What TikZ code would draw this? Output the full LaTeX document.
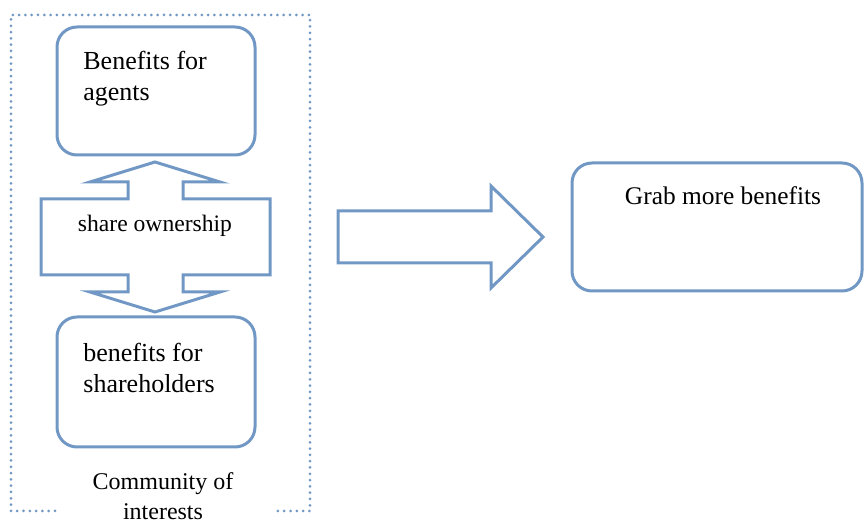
\documentclass[tikz,border=0pt]{standalone}
\usepackage{fontspec}
\setmainfont{Liberation Serif}
\usepackage{tikz}

\definecolor{steelline}{RGB}{113,152,196}

\begin{document}
\begin{tikzpicture}[x=0.5pt,y=-0.5pt,
        box/.style={draw=steelline, line width=1.5pt, rounded corners=10pt, inner sep=0pt},
        blockarrow/.style={draw=steelline, line width=1.5pt, line join=miter},
        frame/.style={draw=steelline, line width=1.5pt, line cap=round, dash pattern=on 0pt off 3.15pt},
        lbl/.style={inner sep=0pt, align=left, font=\rmfamily\fontsize{13}{15.5}\selectfont}]
        \useasboundingbox (0,0) rectangle (864,523);

        % Draw the group frame (open at the bottom for its label)
        \draw[frame] (55,511) -- (11,511) -- (11,15) -- (310,15) -- (310,511) -- (273,511);

        % Draw the boxes
        \node[box, minimum width=99pt, minimum height=64pt] (agents) at (156,91) {};
        \node[box, minimum width=99pt, minimum height=65pt] (holders) at (156,382) {};
        \node[box, minimum width=145pt, minimum height=64pt] (grab) at (717,227) {};

        % Labels in the boxes
        \node[lbl, anchor=north west] (agentsT) at (83,51) {Benefits for\\agents};
        \node[lbl, anchor=north west] (holdersT) at (83,343) {benefits for\\shareholders};
        \node[lbl, anchor=base, font=\rmfamily\fontsize{12.7}{15}\selectfont] (grabT) at (723,205) {Grab more benefits};

        % Draw the up-down arrow
        \draw[blockarrow] (155,162) -- (220,182) -- (183,182) -- (183,199) -- (270,199)
            -- (270,275) -- (183,275) -- (183,292) -- (220,292) -- (155,312)
            -- (90,292) -- (128,292) -- (128,275) -- (41,275) -- (41,199)
            -- (128,199) -- (128,182) -- (90,182) -- cycle;
        \node[lbl, anchor=base, font=\rmfamily\fontsize{11.8}{14}\selectfont] (share) at (155,232) {share ownership};

        % Draw the right arrow
        \draw[blockarrow] (338,211) -- (491,211) -- (491,186) -- (543,237)
            -- (491,288) -- (491,263) -- (338,263) -- cycle;

        % Label of the group
        \node[lbl, anchor=north, align=center, font=\rmfamily\fontsize{12}{15}\selectfont] (community) at (163,472) {Community of\\interests};
\end{tikzpicture}
\end{document}
